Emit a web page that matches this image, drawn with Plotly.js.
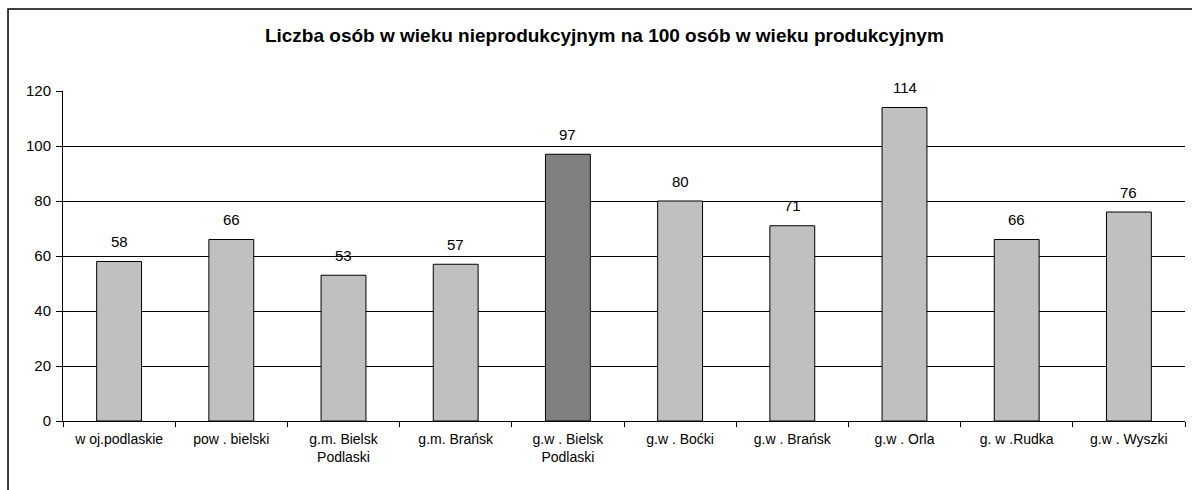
<!DOCTYPE html>
<html>
<head>
<meta charset="utf-8">
<script src="https://cdn.plot.ly/plotly-3.0.1.min.js"></script>
<style>html,body{margin:0;padding:0;background:#fff;}#chart{width:1192px;height:490px;}</style>
</head>
<body>
<div id="chart"></div>
<script>
const categories = ["w oj.podlaskie", "pow . bielski", "g.m. Bielsk<br>Podlaski", "g.m. Brańsk", "g.w . Bielsk<br>Podlaski", "g.w . Boćki", "g.w . Brańsk", "g.w . Orla", "g. w .Rudka", "g.w . Wyszki"];
const values = [58, 66, 53, 57, 97, 80, 71, 114, 66, 76];
const barColors = ["#c0c0c0", "#c0c0c0", "#c0c0c0", "#c0c0c0", "#808080", "#c0c0c0", "#c0c0c0", "#c0c0c0", "#c0c0c0", "#c0c0c0"];
const titleText = "Liczba osób w wieku nieprodukcyjnym na 100 osób w wieku produkcyjnym";

const font = "Liberation Sans, Arial, sans-serif";

const trace = {
  type: "bar",
  x: categories,
  y: values,
  marker: {color: barColors, line: {color: "#000", width: 1}},
  hoverinfo: "x+y"
};

const labels = categories.map((c, i) => ({
  x: c, y: values[i], xref: "x", yref: "y",
  text: String(values[i]), showarrow: false,
  yanchor: "middle", yshift: 20,
  font: {family: font, size: 15, color: "#000"}
}));

const layout = {
  width: 1192, height: 490,
  margin: {l: 63, r: 7, t: 91, b: 69},
  paper_bgcolor: "#fff",
  plot_bgcolor: "#fff",
  showlegend: false,
  bargap: 0.6,
  font: {family: font, size: 15, color: "#000"},
  title: {text: "<b>" + titleText + "</b>", font: {family: font, size: 19, color: "#000"}, x: 0.507, xref: "container", y: 0.928, yref: "container", yanchor: "middle"},
  xaxis: {
    type: "category",
    tickson: "boundaries",
    ticks: "outside", ticklen: 5, tickcolor: "#000",
    ticklabelstandoff: 5,
    showline: true, linecolor: "#000", linewidth: 1,
    showgrid: false,
    tickfont: {family: font, size: 14, color: "#000"},
    fixedrange: true
  },
  yaxis: {
    range: [0, 120],
    dtick: 20,
    ticks: "outside", ticklen: 6, tickcolor: "#000",
    ticklabelstandoff: 2,
    showline: true, linecolor: "#000", linewidth: 1,
    showgrid: true, gridcolor: "#000", gridwidth: 1,
    zeroline: false,
    tickfont: {family: font, size: 15, color: "#000"},
    fixedrange: true
  },
  annotations: labels,
  shapes: [{
    type: "rect", xref: "paper", yref: "paper",
    x0: -0.049, x1: 1.02, y0: -0.4, y1: 1.2485,
    line: {color: "#000", width: 1.5}, fillcolor: "rgba(0,0,0,0)", layer: "below"
  }]
};

Plotly.newPlot("chart", [trace], layout, {displayModeBar: false, staticPlot: true});
</script>
</body>
</html>
